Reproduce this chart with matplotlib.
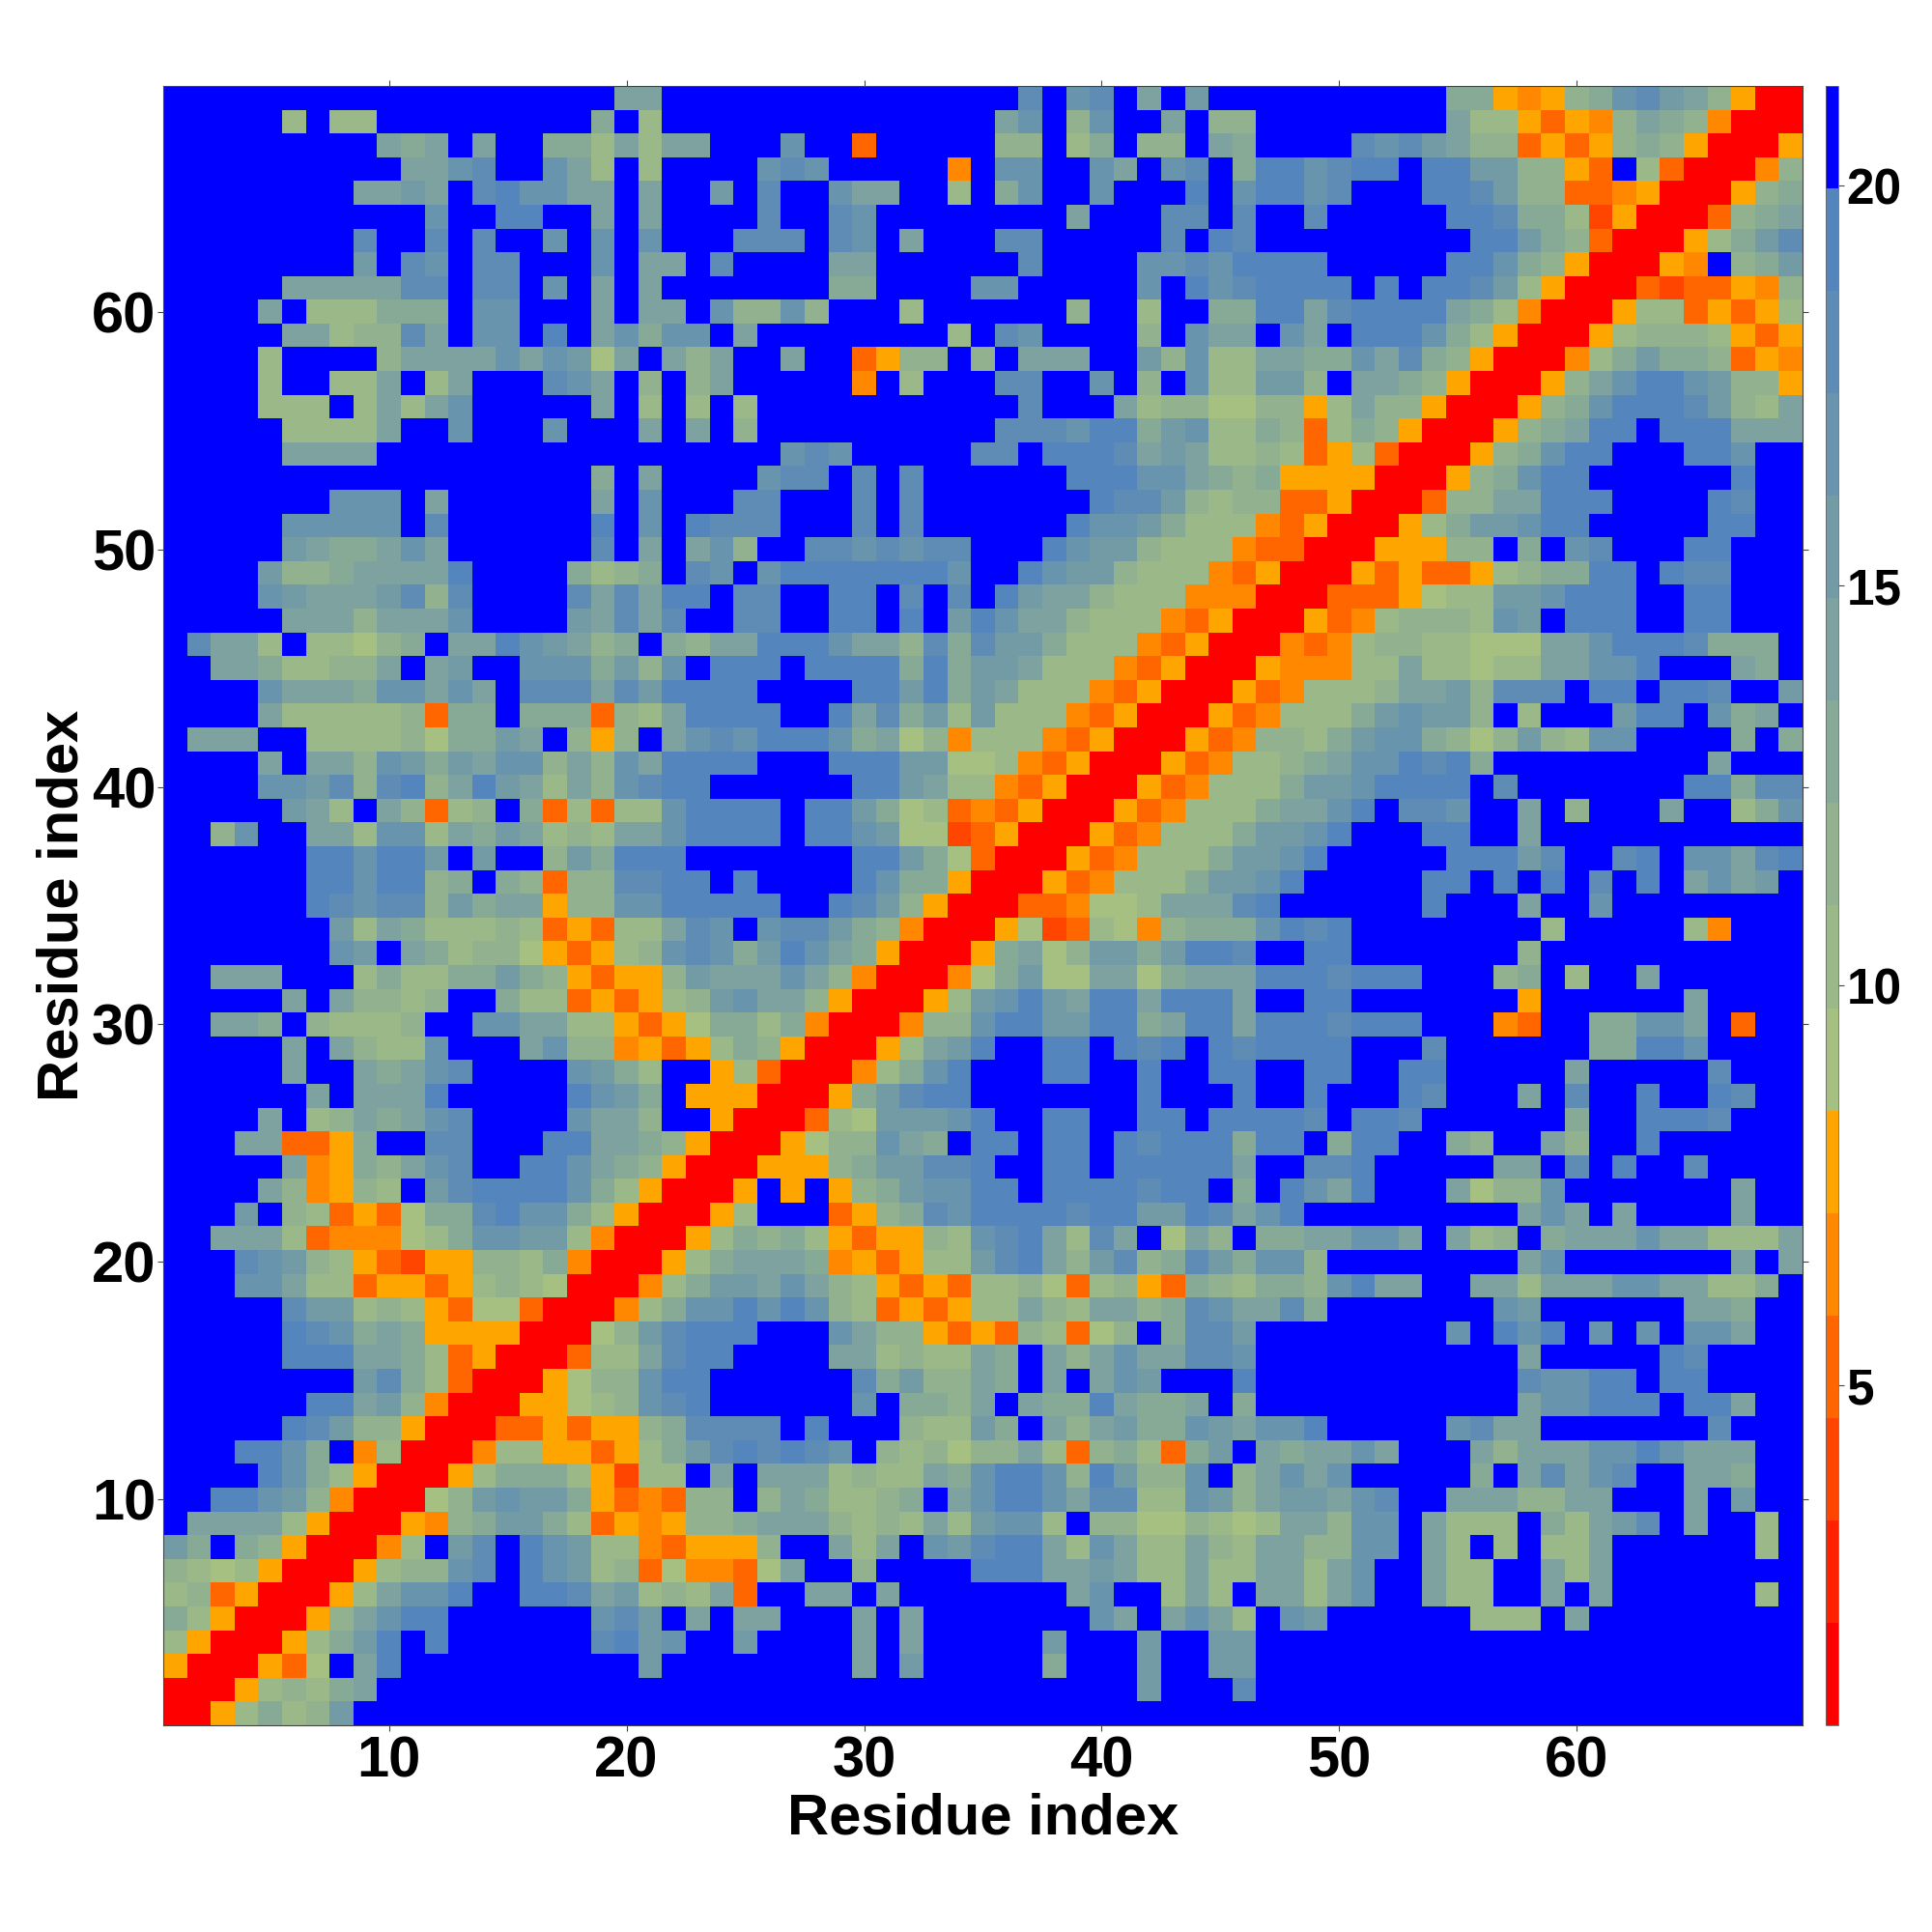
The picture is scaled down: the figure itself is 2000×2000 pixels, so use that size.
import numpy as np
import matplotlib
matplotlib.use('Agg')
import matplotlib.pyplot as plt
from matplotlib.colors import ListedColormap

# one row per residue from 69 down to 1, three blocks of 23 cells
# every letter stands for one band of the colour scale, see band_values
rows = [
"...................ee.. .............h.gh.e.f.. ........ddyoycdghfecyRR",
".....b.bb.........d.b.. ............eg.cg..e.cc ........ebbyryocedcoRRR",
".........ede.e..ddbebee ...g..r.....cc.bd.cc.ed ....hghfeccryrycdcyRRRy",
"..........eegh..geb.b.. ..ghg.....o.gg..ge.gh.d iighii.iiffccyr.brRRRoc",
"........eefe.higgee.e.. f.h..gee..b.dg..g...i.g iigh...iihfccrroyRRRycd",
"...........g..ii..e.e.. ..h..hg........e...hh.h ..h.....iihddbxyRRRrcde",
"........h..h.h..g.g.g.. .hhh.hg.e...hh.....h.ih .........iifdcrRRRybdfh",
"........f.hg.hh...g.ee. h....ee......h....gghgi iii.....iigdcyRRRyo.cdf",
".....eeeeehh.hh.g.e.e.. .....dd....gg.....g.igh iiii.i.iihfbyRRRrxrryoc",
"....e.bbbddd.gg...e.ee. gccgc...b......c..b..dd iiehiiiiedboRRRybbryryb",
".....eebcche.gg.i.egdgg .e........b.hg....c.gee .ge.iiigdbyRRRybcccbyry",
"....b....ceeeegegfae.ec e..e..rycc.c.eee..fcgbb eeddgehdcyRRRobdfddcryo",
"....b..bbe.be...hge.c.c e.....o.b...hh..g.c.gbb ffc.eedcyRRRycegiigfccy",
"....bbb.bebeg.....e.b.b .b...........h...ebccaa ccybeccyRRRycdgiiihfcbe",
".....bbbbe..g...g...e.e .c..........hhhgiidfgbb dcrbdcyRRRycdeii.iiieee",
".....eeee.............. ...ghg.....hh.iiihefebb cbrybrRRRycdgii...iig..",
"..................d.e.. ..ghh.h.h......iiiggedc dyyyyRRRycdgii......i..",
".......ggg.e......e.g.. .hh...h.h.......ihhfcbc crryRRRrcceeiii....ih..",
".....ggggg.h......i.g.i hhh...h.h......iggfdbbb oryRRRybdffgii.....ii..",
".....feddege......h.e.e gc..hhghghh...igffcbbbo rrRRRyyycc.d.gh...ii...",
"....fccdeeeei....dbcd.h g.giiiiiiig..igffcbbbor yRRRyryrrybcddii.ihh...",
"....gfeeefhch....heheii .hh..ii.h.h.ifeecbbbooo RRRrrryabbffgiii..ii...",
".....eeeceeeg....feheh. .hh..ii.i.figeecbbboryR RRyrobcccbgf.iii..ii...",
".heeb.bbacd.eeigfecd.dc eeiiigeechdhffdbbboryRR Rorobccbbaaaeegiiihddd.",
"..eedbbcce.ef..gggdfcg. iii.iiiididffebbboryRRR yooobbebbabbeeggi...ed.",
"....geeedggege.hhhehfii ii....iifidfebbboryRRRy robbbceefchhh.ii.iih..f",
"....ebbbbbcrdd.dddrcbei iii..iehdfbfbbboryRRRyr obbbdfgffc.b...fii.gde.",
".eee..bbbbcaddfe.cyc.eg hgiiigdeacobbboryRRRyro ccbdfggdcacfcbgg....d.d",
"....e.eecgfdfeggcecgeii ii...iiiffaaboryRRRyrob bcdeggihid.........e...",
"....ggfhchiceifebecghii ......iifebboryRRRyrobb bdffgiiii.h.......iidhh",
".....feb.ecrbc.drbrbbgi iii.iifdabroryRRRyrobbb deegi.hhg..e.c...e..bdg",
"..cg..eebggbedfebcbeegi iii.iigfaaxryRRRyrobbbd ffgi...ii..e...........",
"......iigiif.f..cfdiii. ......iifdarRRRyrobbbdf fgi.....iiifh..hi.ggehi",
"......iigiicd.dcrcchhii .i....igddyRRRyrobbbdff gi.....ii.i.i.h.i.egef.",
"......ihghhcfdeeyccggii iii..ihfcyRRRrroaabeeeh i......i...e..g........",
".......fbedbbbcbryrbbeh g.ghhfdcoRRRyaxrbaocddd gihi........b.....bo...",
".......gf.edbccayrybcgh gdfigedyRRRydeacffdfiih ..ii.......c...........",
"..eee...bdbbddfdcyryycf eeegecoRRRoadfaaeeadeee iiihiii...cd.b..e......",
".....e.eccbc..dbbryrybc fgeecyRRRybfgifeiieiiie ..ii.......y......e....",
"..eed.cbbbc..ggeebbyrya ddbdoRRRoccgiiffiideiie iiihiii...or..ddgge.r..",
".....e.ecbbg...egccoyry bdcyRRRybefi..ii.ihi.ih iiii...h......ddiig....",
".....e..edegh....gfdb.. ybrRRRobdgi...ii..i..ii ..ii..ii.....e.....h...",
"......e.eeei.....igfd.y yyRRRydfhii.......i...i ..i...ih...e.h..i..ih..",
"....e.bcedegh....geec.. yRRRrbafffgi..ii..ii.ii iih.iih......d..iiih...",
"...eerryd..hh...iieedcy RRRyaccged.ii.ii.ihiiid ii.dii..dc..ec..i......",
".....eoydcegh..iigedcyR RRyyycdffhhi..ii.iiiiie ..hhi.....ee.h.i..h....",
"....ecoycb.fhiiiigdbyRR Ry.y.ycdfggii.iiiihii.d .igei...eaccg.......e..",
"...f.cbryraddhiggdbyRRR yb...rycdhgiiiihiiffihe gi.........ege.e....e..",
"..eeebroooabdggffboRRRy bdcdbyryycbghiebhe.aec. ddeegge.ebc.deeegeebbbe",
"...hgfcbyrxyyccbdoRRRyb deeedoyrybbfhiecfhcdhfd ggc........eg.......e.e",
"...ggebbryyrybcbaRRRobd ffegecbyryrbbcarbcyrdcb ddcgiee..eebeeeggeebbd.",
".....hffbcbyraarRRRobdg gigigcbryrybbecbeecdhge ehd.......gf......eed..",
".....ihgdedyyyyRRRacfhi ii...geccyryrcbrac.dhhf ........g.igi.g.g.gge..",
".....iiieedbryRRRrbbehi i....eebcbbed.ecegeehhg ...........e.....ih....",
"........fhdbrRRRyaccgii ......hdfcced.e.egf...i ...........hggii.ii....",
"......iiefcoRRRyyabcghi ......g.ddce.eddiedde.d ...........eggiii.iie..",
".....ihfccyRRRrryryycdh hhh.i...cbbfd.ecefddgfe ggi.....ghee.......h...",
"...iigd.obRRRobbyyrybdf hihihg.cbcaccebrcdbrdf. edeege...eceeeggigeee..",
"....igdbyRRRybdddbyxbb. e.eeebcbbedgiigcifccg.c egeg.....d.ehegh..eed..",
"..iigfcoRRRacfgffdyrorc c.cedbbcd.egiigehhbbgfc effegh..eeeccee...e.f..",
".eeeebyRRRyocdffdbryoyc cdeeecbcbebfggb.ccaacba beecgg.ebbb.dbefh.e..b.",
"fd.dcyRRRob.fh.igfbbory yyc..ebe.gfhiiebgebbecb eeccgg.eb.b.bbe......b.",
"cbabyRRRybccgh.igfbcrao orae..c....iiieefebbebb eebeg..ebb..ebe........",
"bcryRRRybeggi..iihefbcb er..ee.e.......eg..beb. eebeg..ebb..e.e......b.",
"dbyRRRycegii......ghf.e .ee...e.e.......ge.egeb .gf......bbb.e.........",
"byRRRybdfi.i......hifg. .f....e.e.....f...f..ff .......................",
"yRRRyra.ei..........f.. ......e.f.....d...f..ff .......................",
"RRRybcbde.............. ..................f...h .......................",
"RRybdbcf............... ....................... .......................",
]

band_letters = "RQxroyabcdefghi."
band_values = [1.39, 2.67, 3.95, 5.23, 6.52, 7.80, 9.08, 10.36,
               11.64, 12.92, 14.20, 15.48, 16.77, 18.05, 19.33, 20.61]
band_colors = ['#ff0000', '#ff2200', '#ff4500', '#ff6600', '#ff8800', '#ffa500',
               '#a5c080', '#9bb988', '#91b18f', '#87aa97', '#7da29f', '#739ba6',
               '#6994ae', '#5f8cb5', '#5585bd', '#0000ff']
tick_values = [10, 20, 30, 40, 50, 60]
cbar_ticks = [5, 10, 15, 20]

def readRows(rows):
    cells = []
    for row in rows:
        row = row.replace(' ', '')
        assert len(row) == 69, row
        cells.append([band_values[band_letters.index(c)] for c in row])
    return np.array(cells)

def plotMap(matrix):
    fig = plt.figure(figsize=(20, 20), dpi=100)
    ax = fig.add_axes([169/2000, 214/2000, 1697/2000, 1697/2000])
    cmap = ListedColormap(band_colors)
    im = ax.imshow(matrix, cmap=cmap, vmin=0.75, vmax=21.25, origin='upper',
                   extent=(0.5, 69.5, 0.5, 69.5), interpolation='nearest', aspect='auto')
    ax.set_xticks(tick_values)
    ax.set_yticks(tick_values)
    ax.tick_params(top=True, right=True, length=4.5, width=0.8, color='#444444', labelsize=43)
    ax.tick_params(axis='x', pad=3)
    ax.tick_params(axis='y', pad=1)
    for lab in ax.get_xticklabels() + ax.get_yticklabels():
        lab.set_fontweight('bold')
    for sp in ax.spines.values():
        sp.set_linewidth(0.8)
        sp.set_color('#444444')
    ax.set_xlabel('Residue index', fontsize=43, fontweight='bold')
    ax.set_ylabel('Residue index', fontsize=43, fontweight='bold')
    ax.xaxis.set_label_coords(0.5, -0.041)
    ax.yaxis.set_label_coords(-0.045, 0.5)

    cax = fig.add_axes([1890/2000, 214/2000, 13/2000, 1697/2000])
    cb = fig.colorbar(im, cax=cax, ticks=cbar_ticks)
    cb.ax.tick_params(length=4, width=0.8, color='#444444', labelsize=37, pad=2)
    cb.outline.set_linewidth(0.6)
    cb.outline.set_edgecolor('#666666')
    for lab in cb.ax.get_yticklabels():
        lab.set_fontweight('bold')
    fig.savefig('out.png', dpi=100)

if __name__ == '__main__':
    plt.rcParams['font.family'] = ['Liberation Sans', 'DejaVu Sans']
    matrix = readRows(rows)
    plotMap(matrix)
